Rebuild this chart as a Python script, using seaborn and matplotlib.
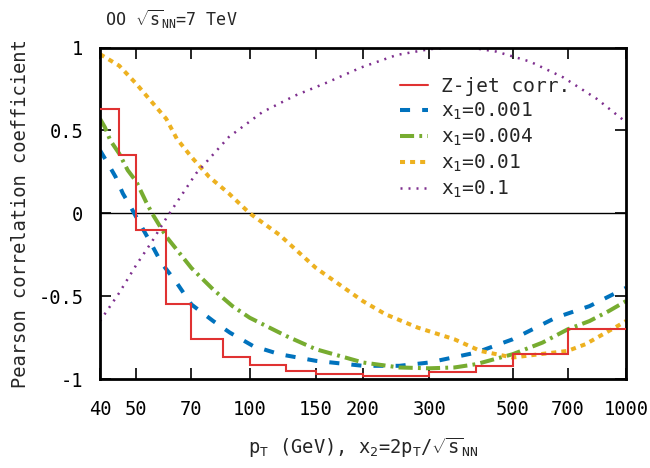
import numpy as np
import pandas as pd
import matplotlib
matplotlib.use('Agg')
import matplotlib.pyplot as plt
import seaborn as sns

sns.set_style('ticks')
plt.rcParams['font.family'] = ['DejaVu Sans Mono']
plt.rcParams['mathtext.fontset'] = 'custom'
plt.rcParams['mathtext.rm'] = 'DejaVu Sans Mono'
plt.rcParams['mathtext.it'] = 'DejaVu Sans Mono'
plt.rcParams['mathtext.default'] = 'rm'
plt.rcParams['axes.unicode_minus'] = False
plt.rcParams['font.size'] = 13

# --- data ---
# Z-jet correlation, step histogram
zjet_edges = [40, 45, 50, 60, 70, 85, 100, 125, 150, 200, 300, 400, 500, 700, 1000]
zjet_vals = [0.63, 0.35, -0.10, -0.55, -0.76, -0.865, -0.915, -0.95, -0.97, -0.98,
             -0.96, -0.92, -0.85, -0.70]

# x1 = 0.001
pt_a = [40, 42, 44, 46, 48.5, 51, 54.3, 58.3, 64, 70, 80, 88.6, 102, 120, 150, 200,
        250, 300, 400, 500, 650, 800, 1000]
corr_a = [0.38, 0.30, 0.22, 0.12, 0.03, -0.06, -0.17, -0.30, -0.42, -0.55, -0.65,
          -0.72, -0.80, -0.85, -0.89, -0.92, -0.92, -0.90, -0.84, -0.76, -0.63,
          -0.56, -0.45]

# x1 = 0.004
pt_b = [40, 41.2, 42.6, 45, 47.4, 50, 53, 55, 60, 70, 80, 90, 100, 125, 150, 200,
        250, 300, 350, 400, 500, 600, 700, 800, 900, 1000]
corr_b = [0.57, 0.52, 0.44, 0.36, 0.26, 0.19, 0.07, 0.0, -0.14, -0.33, -0.46, -0.56,
          -0.63, -0.74, -0.82, -0.90, -0.93, -0.935, -0.93, -0.91, -0.85, -0.78,
          -0.70, -0.65, -0.59, -0.53]

# x1 = 0.01
pt_c = [40, 45, 50, 55, 60, 64, 70, 78, 88, 100, 120, 150, 200, 230, 280, 350, 410,
        500, 590, 700, 780, 950, 1000]
corr_c = [0.96, 0.89, 0.78, 0.67, 0.57, 0.45, 0.34, 0.22, 0.12, 0.0, -0.13, -0.33,
          -0.53, -0.61, -0.69, -0.76, -0.83, -0.87, -0.85, -0.83, -0.79, -0.68, -0.65]

# x1 = 0.1
pt_d = [40, 45, 50, 55, 60, 72, 88, 108, 132, 161, 198, 246, 301, 341, 385, 453,
        556, 681, 837, 1000]
corr_d = [-0.65, -0.48, -0.31, -0.17, -0.03, 0.24, 0.46, 0.61, 0.71, 0.79, 0.88,
          0.955, 0.99, 1.0, 1.0, 0.975, 0.915, 0.82, 0.69, 0.55]

xticks = [40, 50, 70, 100, 150, 200, 300, 500, 700, 1000]
yticks = [-1, -0.5, 0, 0.5, 1]
ytick_labels = ['-1', '-0.5', '0', '0.5', '1']

fig = plt.figure(figsize=(6.5, 4.68), dpi=100)
ax = fig.add_axes([0.1538, 0.190, 0.8092, 0.7085])

ax.axhline(0, color='black', lw=1.0, zorder=1)

ax.stairs(zjet_vals, zjet_edges, baseline=None, color='#e03232', lw=1.5,
          label='Z-jet corr.', zorder=3)
sns.lineplot(x=pt_a, y=corr_a, ax=ax, color='#0072bd', lw=2.9, sort=False,
             label='x$_1$=0.001').lines[-1].set_dashes((2.5, 3.0))
sns.lineplot(x=pt_b, y=corr_b, ax=ax, color='#77ac30', lw=2.9, sort=False,
             label='x$_1$=0.004').lines[-1].set_dashes((3.5, 1.3, 0.7, 1.3))
sns.lineplot(x=pt_c, y=corr_c, ax=ax, color='#edb120', lw=2.9, sort=False,
             label='x$_1$=0.01').lines[-1].set_dashes((1.25, 1.25))
sns.lineplot(x=pt_d, y=corr_d, ax=ax, color='#7e2f8e', lw=1.8, sort=False,
             label='x$_1$=0.1').lines[-1].set_dashes((0.8, 2.4))

ax.set_xscale('log')
ax.set_xlim(40, 1000)
ax.set_ylim(-1, 1)
ax.set_xticks(xticks)
ax.set_xticklabels([str(t) for t in xticks])
ax.xaxis.set_minor_locator(matplotlib.ticker.NullLocator())
ax.set_yticks(yticks)
ax.set_yticklabels(ytick_labels)
ax.tick_params(direction='in', length=8, width=1.2, top=True, right=True,
               labelsize=13.5, colors='black')
ax.tick_params(axis='x', pad=15)
ax.tick_params(axis='y', pad=12)
for s in ax.spines.values():
    s.set_linewidth(2)
    s.set_color('black')

ax.set_xlabel('p$_T$ (GeV), x$_2$=2p$_T$/$\\sqrt{s}_{NN}$', fontsize=13.5, labelpad=12)
ax.set_ylabel('Pearson correlation coefficient', fontsize=13.5, labelpad=6)
fig.text(105 / 650, 1 - 18 / 468, 'OO $\\sqrt{s}_{NN}$=7 TeV', fontsize=12,
         va='center', ha='left')

handles, labels = ax.get_legend_handles_labels()
ax.legend(handles, labels, loc='upper left', bbox_to_anchor=(0.555, 0.935),
          frameon=False, fontsize=14, handlelength=1.45, handletextpad=0.65,
          labelspacing=0.24, borderaxespad=0)

fig.savefig('out.png', dpi=100)
